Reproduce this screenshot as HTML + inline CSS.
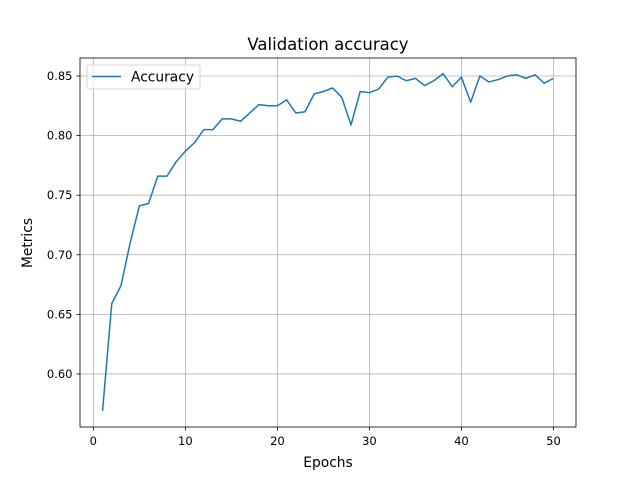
<!DOCTYPE html>
<html><head><meta charset="utf-8"><style>
body{margin:0;background:#fff;font-family:"Liberation Sans","DejaVu Sans",sans-serif}
svg text{font-family:"DejaVu Sans","Liberation Sans",sans-serif}
</style></head><body>
<svg id="chart" width="640" height="480" xmlns="http://www.w3.org/2000/svg">
<rect width="640" height="480" fill="#fff"/>
<text x="328" y="50" text-anchor="middle" font-size="16.5">Validation accuracy</text>
<text x="328" y="467" text-anchor="middle" font-size="13.8">Epochs</text>
<text x="32" y="243" text-anchor="middle" font-size="13.8" transform="rotate(-90 32 243)">Metrics</text>
<g id="grid"></g>
<g id="ticks"></g>
<polyline id="line" fill="none" stroke="#1f77b4" stroke-width="1.5" stroke-linejoin="round"/>
<rect x="80" y="58" width="496" height="369" fill="none" stroke="#000" stroke-width="0.8"/>
<g>
<rect x="87" y="65" width="113" height="24" rx="2" fill="#fff" fill-opacity="0.8" stroke="#ccc" stroke-width="0.8"/>
<line x1="92" y1="76.5" x2="121" y2="76.5" stroke="#1f77b4" stroke-width="1.5"/>
<text x="131" y="81.5" font-size="13.8">Accuracy</text>
</g>
</svg>
<script>
const epochs = Array.from({length:50},(_,i)=>i+1);
const accuracy = [0.569,0.659,0.674,0.710,0.741,0.743,0.766,0.766,0.778,0.787,0.794,0.805,0.805,0.814,0.814,0.812,0.819,0.826,0.825,0.825,0.830,0.819,0.820,0.835,0.837,0.840,0.832,0.809,0.837,0.836,0.839,0.849,0.850,0.846,0.848,0.842,0.846,0.852,0.841,0.849,0.828,0.850,0.845,0.847,0.850,0.851,0.848,0.851,0.844,0.848];
const xTicks = [0,10,20,30,40,50];
const yTicks = [0.60,0.65,0.70,0.75,0.80,0.85];
const L=80,R=576,T=58,B=427;
const xmin=-1.45,xmax=52.45,ymin=0.5555,ymax=0.8651;
const sx=v=>L+(v-xmin)/(xmax-xmin)*(R-L);
const sy=v=>B-(v-ymin)/(ymax-ymin)*(B-T);
const NS="http://www.w3.org/2000/svg";
const grid=document.getElementById('grid'),ticks=document.getElementById('ticks');
function mk(tag,attrs,parent){const e=document.createElementNS(NS,tag);for(const k in attrs)e.setAttribute(k,attrs[k]);parent.appendChild(e);return e;}
xTicks.forEach(t=>{const x=sx(t);
 const g=mk('line',{x1:x,x2:x,y1:T,y2:B,stroke:'#b0b0b0','stroke-width':0.8},grid);
 
 
 mk('line',{x1:x,x2:x,y1:B,y2:B+3.5,stroke:'#000','stroke-width':0.8},ticks);
 const tx=mk('text',{x:x,y:B+18,'text-anchor':'middle','font-size':11.5},ticks);tx.textContent=t;
 
 
});
yTicks.forEach(t=>{const y=sy(t);
 const g=mk('line',{x1:L,x2:R,y1:y,y2:y,stroke:'#b0b0b0','stroke-width':0.8},grid);
 
 
 mk('line',{x1:L-3.5,x2:L,y1:y,y2:y,stroke:'#000','stroke-width':0.8},ticks);
 const tx=mk('text',{x:L-7.5,y:y+4,'text-anchor':'end','font-size':11.5},ticks);tx.textContent=t.toFixed(2);
 
 
});
document.getElementById('line').setAttribute('points',epochs.map((e,i)=>sx(e)+','+sy(accuracy[i])).join(' '));
</script>
</body></html>
